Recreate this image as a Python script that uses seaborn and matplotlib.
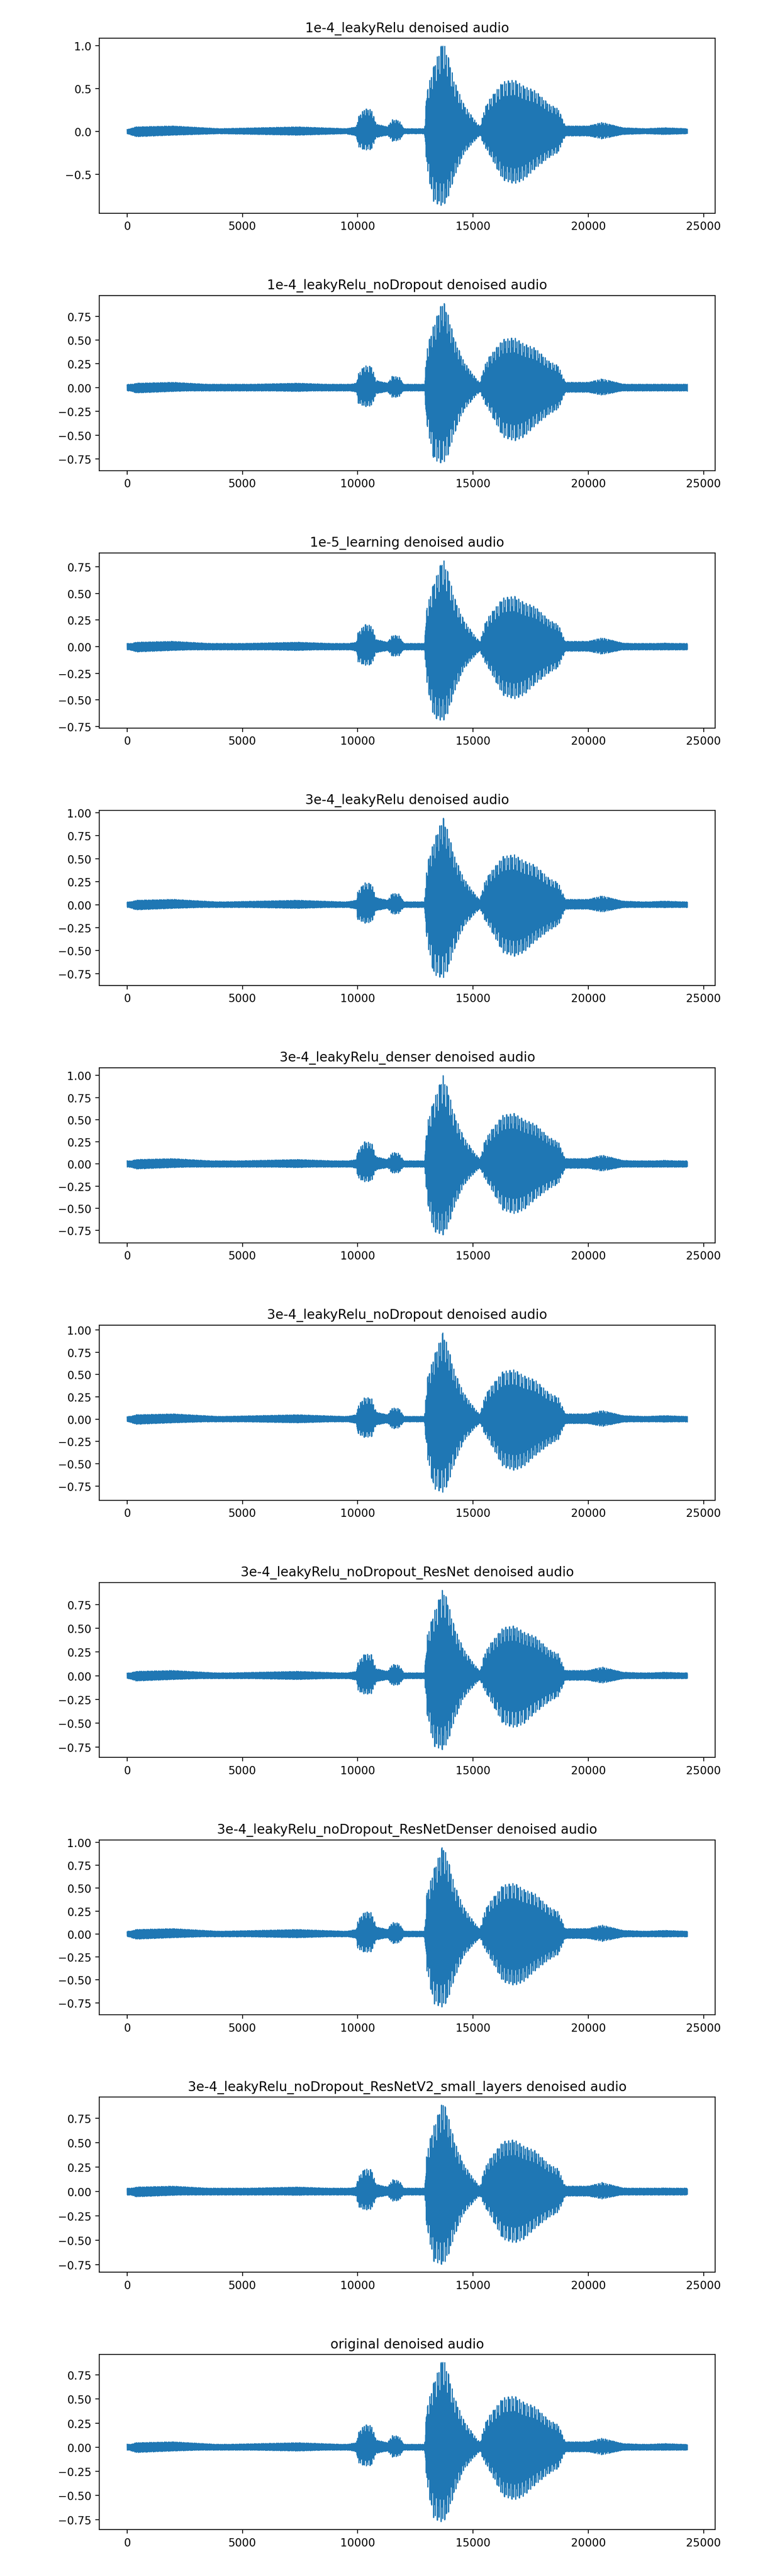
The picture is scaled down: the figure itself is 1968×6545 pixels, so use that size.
import numpy as np
import matplotlib
matplotlib.use("Agg")
import matplotlib.pyplot as plt
import seaborn as sns

titles = ["1e-4_leakyRelu", "1e-4_leakyRelu_noDropout", "1e-5_learning", "3e-4_leakyRelu",
          "3e-4_leakyRelu_denser", "3e-4_leakyRelu_noDropout", "3e-4_leakyRelu_noDropout_ResNet",
          "3e-4_leakyRelu_noDropout_ResNetDenser", "3e-4_leakyRelu_noDropout_ResNetV2_small_layers",
          "original"]
peak_max = [1.05, 0.92, 0.83, 0.95, 1.0, 0.97, 0.92, 0.97, 0.93, 0.93]
peak_min = [-0.87, -0.80, -0.70, -0.80, -0.80, -0.82, -0.78, -0.80, -0.75, -0.78]
noise = [0.015, 0.035, 0.03, 0.03, 0.035, 0.03, 0.03, 0.03, 0.035, 0.03]

# envelope knots (sample index) and normalized envelope
knots = [0, 400, 2000, 4000, 7400, 9500, 9950, 10000, 10300, 10600, 10800, 11300, 11500, 11800,
         12000, 12900, 13000, 13300, 13700, 13900, 14200, 14600, 15000, 15300, 15500, 15700,
         16300, 16800, 17200, 17700, 18300, 18700, 19000, 20000, 20600, 21500, 22500, 23300, 24300]
env_up = [0.02, 0.05, 0.06, 0.03, 0.05, 0.03, 0.05, 0.15, 0.25, 0.24, 0.08, 0.05, 0.13, 0.12,
          0.03, 0.03, 0.45, 0.72, 1.0, 0.85, 0.55, 0.3, 0.15, 0.05, 0.25, 0.35, 0.55, 0.57, 0.5,
          0.45, 0.3, 0.25, 0.06, 0.06, 0.1, 0.04, 0.03, 0.04, 0.03]
env_lo = [0.03, 0.07, 0.05, 0.03, 0.05, 0.03, 0.06, 0.2, 0.25, 0.24, 0.08, 0.05, 0.13, 0.12,
          0.03, 0.03, 0.5, 0.95, 1.0, 0.9, 0.6, 0.3, 0.15, 0.05, 0.2, 0.3, 0.65, 0.7, 0.65,
          0.5, 0.35, 0.28, 0.06, 0.06, 0.1, 0.04, 0.03, 0.04, 0.03]
factors = [1.0, 0.45, 0.8, 0.3, 0.95, 0.5, 0.7, 0.35, 0.6]

fig, axes = plt.subplots(10, 1, figsize=(9.84, 32.73), dpi=200)
fig.subplots_adjust(left=0.128, right=0.923, top=0.985, bottom=0.018, hspace=0.47)

x = np.arange(0, 24300, 6)
up = np.interp(x, knots, env_up)
lo = np.interp(x, knots, env_lo)
for i, ax in enumerate(axes):
    f = np.array([factors[(k // 3 + i) % len(factors)] for k in range(len(x))])
    sign = np.where(np.arange(len(x)) % 2 == 0, 1.0, -1.0)
    amp_up = np.maximum(up * peak_max[i], noise[i])
    amp_lo = np.maximum(lo * -peak_min[i], noise[i])
    small = up < 0.08
    fu = np.where(small, 0.6 + 0.4 * f, f)
    y = np.where(sign > 0, amp_up * fu, -amp_lo * fu)
    sns.lineplot(x=x, y=y, ax=ax, color="#1f77b4", linewidth=1.0, estimator=None)
    ax.set_title(f"{titles[i]} denoised audio")
    ax.set_xticks([0, 5000, 10000, 15000, 20000, 25000])
fig.savefig("out.png")
